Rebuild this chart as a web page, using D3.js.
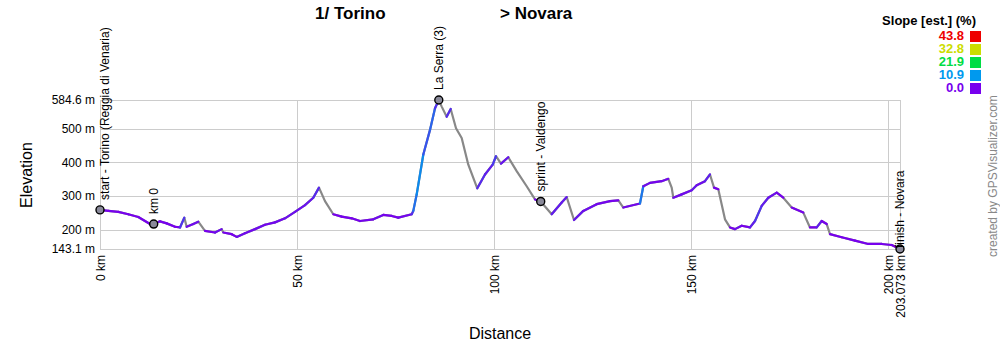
<!DOCTYPE html>
<html lang="en">
  <head>
    <meta charset="utf-8" />
    <title>1/ Torino > Novara</title>
    <script src="https://d3js.org/d3.v7.min.js"></script>
    <style type="text/css">
      body { margin: 0; background: #fff; }
      text { font-family: Arial, "Liberation Sans", sans-serif; }
    </style>
  </head>
  <body>
    <script type="text/javascript">
      // profile
      const distKm = [0, 2.1, 4.65, 7.18, 9.72, 12.69, 13.63, 15.23, 16.93, 19.04, 20.31, 21.4, 22.0, 23.68, 24.95,
        26.65, 29.19, 30.89, 31.3, 33.43, 34.7, 36.81, 39.35, 41.88, 44.42, 46.96, 49.5, 52.04, 54.14, 55.59,
        57.11, 59.22, 61.35, 63.89, 66.0, 69.37, 71.91, 74.05, 75.72, 79.12, 79.53, 80.39, 82.07, 83.77, 85.04,
        86.0, 86.74, 88.0, 89.02, 90.37, 91.81, 93.49, 95.77, 97.73, 99.68, 100.52, 101.79, 103.64, 105.77,
        108.31, 110.42, 111.87, 114.66, 117.2, 118.47, 120.32, 122.68, 126.08, 129.46, 131.57, 132.84, 137.07,
        137.91, 139.61, 142.58, 144.26, 145.12, 145.53, 147.66, 150.2, 151.47, 153.57, 154.84, 155.86, 156.95,
        158.65, 159.92, 161.19, 162.89, 165.0, 166.27, 167.97, 169.64, 171.78, 173.45, 175.58, 178.53, 180.22,
        181.93, 183.2, 184.47, 185.3, 188.27, 191.65, 195.03, 198.42, 200.96, 203.073];
      const elevM = [259, 256, 253, 246, 238, 217, 217, 225, 219, 209, 207, 236, 209, 217, 224,
        197, 192, 202, 192, 187, 179, 190, 202, 215, 222, 234, 253, 273, 295, 325,
        285, 246, 239, 234, 226, 231, 244, 241, 236, 246, 256, 305, 423, 496, 560,
        584.6, 565, 535, 558, 501, 472, 393, 323, 364, 393, 418, 396, 415, 374,
        329, 290, 284, 246, 281, 297, 229, 256, 276, 285, 287, 266, 278,
        329, 339, 344, 351, 325, 295, 305, 317, 332, 344, 364, 325, 320,
        231, 207, 202, 212, 207, 226, 271, 295, 310, 295, 266, 251, 207,
        207, 226, 217, 187, 178, 168, 158, 158, 155, 143.1];

      const wpNames = ['start - Torino (Reggia di Venaria)', 'km 0', 'La Serra (3)', 'sprint - Valdengo', 'finish - Novara'];
      const wpKm = [0, 13.63, 86.0, 111.87, 203.073];
      const wpElev = [259, 217, 584.6, 284, 143.1];

      const yTicks = [143.1, 200, 300, 400, 500, 584.6];
      const xTicks = [0, 50, 100, 150, 200, 203.073];

      const slopeValues = [43.8, 32.8, 21.9, 10.9, 0.0];
      const slopeColors = ['#ee0000', '#ccdd00', '#00dd44', '#0099ee', '#7700ee'];

      const w = 1000;
      const h = 350;

      const svg = d3
        .select('body')
        .append('svg')
        .attr('width', w)
        .attr('height', h);

      const xScale = d3.scaleLinear().domain([0, 203.073]).range([100, 900]);
      const yScale = d3.scaleLinear().domain([143.1, 584.6]).range([249, 100]);
      const slopeScale = d3
        .scaleLinear()
        .domain(slopeValues.slice().reverse())
        .range(slopeColors.slice().reverse())
        .clamp(true);

      // grid
      svg
        .append('g')
        .selectAll('line')
        .data(yTicks)
        .enter()
        .append('line')
        .attr('x1', xScale(0))
        .attr('x2', xScale(203.073))
        .attr('y1', d => Math.round(yScale(d)) + 0.5)
        .attr('y2', d => Math.round(yScale(d)) + 0.5)
        .attr('stroke', '#cccccc');

      svg
        .append('g')
        .selectAll('line')
        .data(xTicks)
        .enter()
        .append('line')
        .attr('x1', d => Math.round(xScale(d)) + 0.5)
        .attr('x2', d => Math.round(xScale(d)) + 0.5)
        .attr('y1', yScale(584.6))
        .attr('y2', yScale(143.1))
        .attr('stroke', '#cccccc');

      // axes
      const yAxis = d3
        .axisLeft(yScale)
        .tickValues(yTicks)
        .tickSize(0)
        .tickPadding(5)
        .tickFormat(d => d + ' m');
      const gy = svg
        .append('g')
        .attr('transform', `translate(${xScale(0)},0)`)
        .call(yAxis);
      gy.select('.domain').remove();
      gy.selectAll('text')
        .style('font-family', 'Arial, "Liberation Sans", sans-serif')
        .style('font-size', '12px')
        .attr('fill', '#000');

      const xAxis = d3
        .axisBottom(xScale)
        .tickValues(xTicks)
        .tickSize(0)
        .tickFormat(d => d + ' km');
      const gx = svg
        .append('g')
        .attr('transform', `translate(0,${yScale(143.1)})`)
        .call(xAxis);
      gx.select('.domain').remove();
      gx.selectAll('text')
        .style('font-family', 'Arial, "Liberation Sans", sans-serif')
        .style('font-size', '12px')
        .attr('fill', '#000')
        .attr('transform', 'rotate(-90)')
        .attr('x', -6)
        .attr('y', 0)
        .attr('dy', '0.35em')
        .style('text-anchor', 'end');

      // profile: grey base, coloured unless clearly descending
      const points = distKm.map((d, i) => [d, elevM[i]]);
      const line = d3
        .line()
        .x(d => xScale(d[0]))
        .y(d => yScale(d[1]));

      svg
        .append('path')
        .datum(points)
        .attr('d', line)
        .attr('fill', 'none')
        .attr('stroke', '#888888')
        .attr('stroke-width', 2.2)
        .attr('stroke-linejoin', 'round');

      const slopeOf = p => ((p[1][1] - p[0][1]) / ((p[1][0] - p[0][0]) * 1000)) * 100;
      const segs = d3.pairs(points).filter(p => slopeOf(p) > -1.2);
      svg
        .append('g')
        .selectAll('path')
        .data(segs)
        .enter()
        .append('path')
        .attr('d', line)
        .attr('fill', 'none')
        .attr('stroke-width', 2.2)
        .attr('stroke-linecap', 'round')
        .attr('stroke', d => slopeScale(Math.max(0, slopeOf(d)) * 1.4));

      // waypoints
      const wp = svg
        .append('g')
        .selectAll('g')
        .data(wpNames)
        .enter()
        .append('g');
      wp.append('circle')
        .attr('cx', (d, i) => xScale(wpKm[i]))
        .attr('cy', (d, i) => yScale(wpElev[i]))
        .attr('r', 4)
        .attr('fill', '#8a8a9a')
        .attr('stroke', '#000')
        .attr('stroke-width', 1.4);
      wp.append('text')
        .attr('transform', (d, i) => {
          const x = Math.max(xScale(wpKm[i]), 105);
          const gap = i === wpNames.length - 1 ? 1 : 10;
          return `translate(${x},${yScale(wpElev[i]) - gap}) rotate(-90)`;
        })
        .attr('dy', '0.35em')
        .style('font-size', '12px')
        .attr('fill', '#000')
        .text(d => d);

      // axis names
      svg
        .append('text')
        .attr('transform', 'rotate(-90)')
        .attr('x', -175)
        .attr('y', 32)
        .style('text-anchor', 'middle')
        .style('font-size', '16px')
        .text('Elevation');

      svg
        .append('text')
        .attr('x', 500)
        .attr('y', 339)
        .style('text-anchor', 'middle')
        .style('font-size', '16px')
        .text('Distance');

      // title
      svg
        .append('text')
        .attr('x', 315)
        .attr('y', 19)
        .style('font-size', '17px')
        .style('font-weight', 'bold')
        .text('1/ Torino');
      svg
        .append('text')
        .attr('x', 500)
        .attr('y', 19)
        .style('font-size', '17px')
        .style('font-weight', 'bold')
        .text('> Novara');

      // legend
      svg
        .append('text')
        .attr('x', 976)
        .attr('y', 25)
        .style('text-anchor', 'end')
        .style('font-size', '13px')
        .style('font-weight', 'bold')
        .text('Slope [est.] (%)');

      const leg = svg
        .append('g')
        .selectAll('g')
        .data(slopeValues)
        .enter()
        .append('g')
        .attr('transform', (d, i) => `translate(0,${40 + i * 13})`);
      leg.append('text')
        .attr('x', 964)
        .style('text-anchor', 'end')
        .style('font-size', '13px')
        .style('font-weight', 'bold')
        .attr('fill', (d, i) => slopeColors[i])
        .text(d => d.toFixed(1));
      leg.append('rect')
        .attr('x', 970)
        .attr('y', -9)
        .attr('width', 11)
        .attr('height', 11)
        .attr('fill', (d, i) => slopeColors[i]);

      // credit
      svg
        .append('text')
        .attr('transform', 'translate(997,257) rotate(-90)')
        .style('font-size', '12px')
        .attr('fill', '#888888')
        .text('created by GPSVisualizer.com');
    </script>
  </body>
</html>
